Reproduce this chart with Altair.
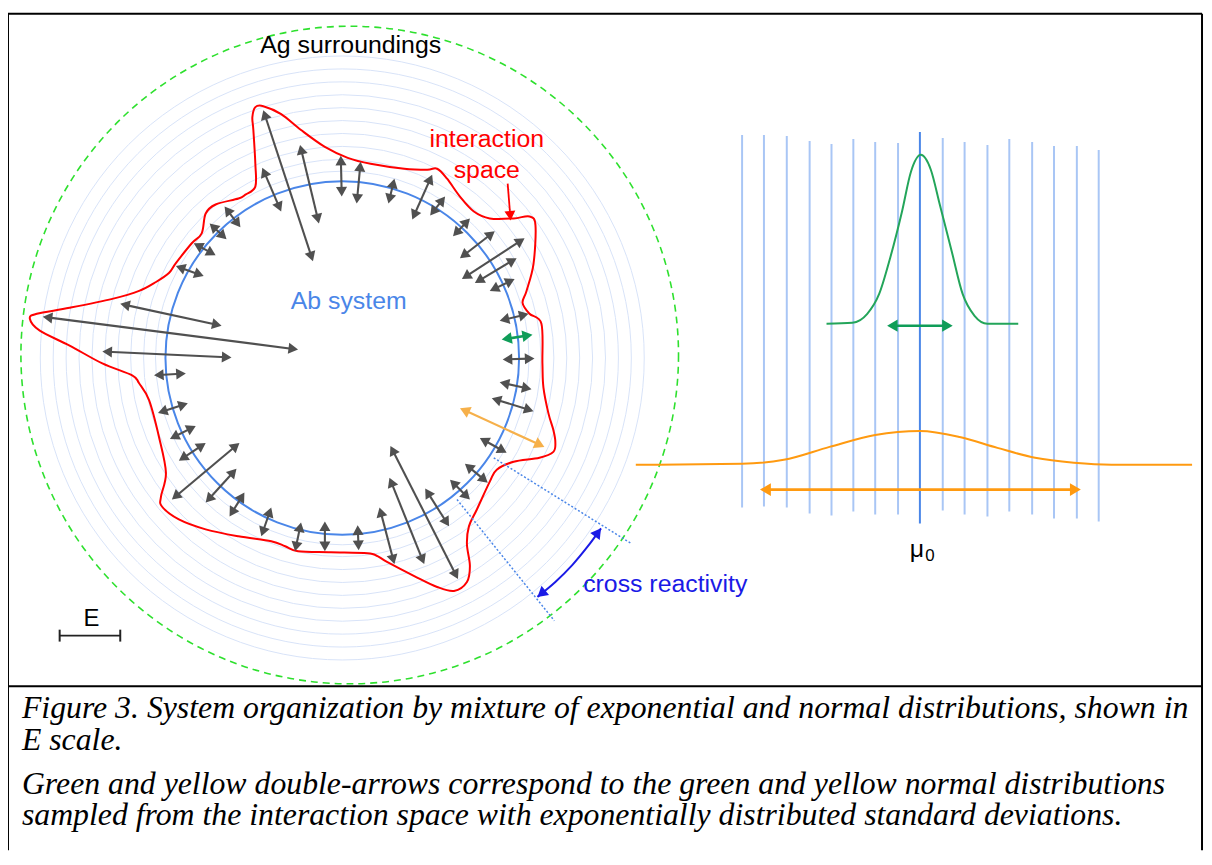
import math
import altair as alt
import pandas as pd

# ------------------------------------------------------------------
# Diagram values (picture coordinates, y grows downward)
# ------------------------------------------------------------------
AB_CX, AB_CY, AB_R = 344.5, 357.5, 178          # Ab system circle
AG_CX, AG_CY, AG_R = 352.0, 354.5, 331          # Ag surroundings (dashed)
SHELL_R = [188, 200, 213, 226, 239, 252, 265, 278, 291, 304]  # E-scale shells

# interaction space (red closed curve)
RED_X = [257, 265, 283, 303, 327, 350, 373, 407, 430, 440, 450, 463, 477, 493, 517, 533, 539,
         537, 530, 526, 533, 545, 546, 547, 552, 557, 559, 557, 543, 517, 500, 493, 480, 472,
         470, 473, 470, 457, 440, 417, 390, 380, 370, 333, 300, 287, 273, 240, 207, 180, 163,
         162, 167, 160, 150, 140, 133, 103, 70, 40, 30, 37, 70, 113, 140, 157, 170, 177, 193,
         203, 207, 217, 240, 247, 257, 257, 255, 254]
RED_Y = [105, 104, 112, 128, 145, 156, 162, 167, 168, 167, 177, 195, 210, 217, 217, 215, 224,
         263, 290, 302, 313, 323, 363, 387, 413, 430, 442, 452, 458, 462, 470, 482, 510, 527,
         545, 567, 583, 592, 588, 577, 563, 557, 554, 553, 552, 547, 542, 537, 530, 520, 507,
         497, 473, 437, 400, 383, 375, 363, 345, 330, 318, 313, 307, 298, 290, 281, 272, 262,
         242, 232, 212, 203, 197, 193, 185, 162, 128, 115]

# gray double arrows (start -> end)
GRAY_X1 = [265, 302, 264, 343, 363, 397, 435, 448, 473, 498, 528, 520, 518, 532, 538, 535, 537,
           510, 491, 473, 452, 461, 427, 397, 361, 327, 297, 263, 231, 207, 173, 180, 171, 159,
           155, 43, 121, 103, 177, 195, 211, 226]
GRAY_Y1 = [108, 143, 166, 154, 160, 177, 173, 195, 217, 230, 237, 257, 278, 313, 358, 389, 411,
           453, 483, 500, 527, 580, 565, 565, 551, 552, 552, 537, 517, 503, 500, 461, 439, 413,
           375, 316, 303, 351, 265, 242, 222, 205]
GRAY_X2 = [315, 321, 283, 344, 359, 391, 415, 433, 456, 463, 465, 478, 493, 503, 506, 503, 495,
           483, 468, 453, 428, 393, 392, 382, 360, 327, 303, 273, 246, 238, 241, 207, 197, 189,
           187, 300, 223, 233, 205, 217, 228, 242]
GRAY_Y2 = [260, 222, 210, 195, 202, 202, 218, 214, 235, 257, 278, 282, 290, 320, 359, 382, 398,
           438, 464, 480, 489, 446, 478, 508, 526, 522, 523, 508, 493, 469, 443, 443, 426, 403,
           373, 349, 325, 357, 275, 254, 238, 226]

# green and yellow sampled double arrows inside the Ab circle
GREEN_ARROW = (536, 334, 505, 339)
ORANGE_ARROW = (463, 408, 548, 447)

# right panel: E-scale grid lines
VLINE_X = [747, 769, 792, 815, 837, 859, 881, 904, 926, 949, 971, 994, 1016, 1039, 1061, 1084, 1106]
VLINE_TOP = [133, 133, 134, 139, 142, 137, 140, 141, 130, 136, 140, 143, 137, 140, 144, 144, 148]
VLINE_BOT = [508, 507, 508, 514, 516, 512, 515, 515, 524, 511, 515, 517, 512, 515, 519, 519, 522]

# green (narrow) normal distribution
GREEN_X = [832, 858, 873, 885, 896, 908, 917, 927, 937, 946, 958, 969, 981, 994, 1025]
GREEN_Y = [323, 322, 313, 293, 257, 210, 170, 153, 168, 203, 250, 293, 315, 323, 323]
# yellow (wide) normal distribution
ORANGE_X = [640, 747, 789, 835, 881, 926, 966, 1004, 1042, 1081, 1119, 1200]
ORANGE_Y = [465, 464, 460, 447, 435, 431, 437, 448, 458, 463, 465, 465]

RIGHT_GREEN_ARROW = (893, 325, 959, 325)
RIGHT_ORANGE_ARROW = (765, 490, 1088, 490)

# cross reactivity arc and guide lines
ARC_X = [541, 559, 576, 591, 605]
ARC_Y = [598, 583, 566, 548, 529]
GUIDE_X1 = [497, 460]
GUIDE_Y1 = [458, 500]
GUIDE_X2 = [635, 558]
GUIDE_Y2 = [544, 622]

CAPTION = [
    "Figure 3. System organization by mixture of exponential and normal distributions, shown in",
    "E scale.",
    "Green and yellow double-arrows correspond to the green and yellow normal distributions",
    "sampled from the interaction space with exponentially distributed standard deviations.",
]

# ------------------------------------------------------------------
W, H = 1204, 845
xs = alt.Scale(domain=[8, 8 + W], nice=False, zero=False)
ys = alt.Scale(domain=[8, 8 + H], nice=False, zero=False, reverse=True)


def X(f="x"):
    return alt.X(f"{f}:Q", scale=xs, axis=None)


def Y(f="y"):
    return alt.Y(f"{f}:Q", scale=ys, axis=None)


def arrow_parts(x1, y1, x2, y2, color, width, head, both=True):
    L = math.hypot(x2 - x1, y2 - y1)
    ux, uy = (x2 - x1) / L, (y2 - y1) / L
    h = math.sqrt(head) / 2 * math.sqrt(3) / 2
    seg = dict(x=x1 + (ux * h if both else 0), y=y1 + (uy * h if both else 0),
               x2=x2 - ux * h, y2=y2 - uy * h, c=color, w=width)
    heads = [dict(x=x2 - ux * h, y=y2 - uy * h,
                  a=math.degrees(math.atan2(ux, -uy)) % 360, c=color, s=head)]
    if both:
        heads.append(dict(x=x1 + ux * h, y=y1 + uy * h,
                          a=math.degrees(math.atan2(-ux, uy)) % 360, c=color, s=head))
    return seg, heads


segs, heads = [], []
for a, b, c, d in zip(GRAY_X1, GRAY_Y1, GRAY_X2, GRAY_Y2):
    s, hh = arrow_parts(a, b, c, d, "#505050", 2.1, 125)
    segs.append(s); heads += hh
for arr, col, w, hs in [(GREEN_ARROW, "#0f9d58", 2.6, 140), (ORANGE_ARROW, "#f6b04a", 2.2, 140),
                        (RIGHT_GREEN_ARROW, "#0f9d58", 2.4, 150),
                        (RIGHT_ORANGE_ARROW, "#ff9a10", 2.6, 160)]:
    s, hh = arrow_parts(*arr, col, w, hs)
    segs.append(s); heads += hh
# red pointer from the "space" label
s, hh = arrow_parts(511, 182, 514, 219, "#ff0000", 1.8, 120, both=False)
segs.append(s); heads += hh
# heads of the cross reactivity arc
for (px, py, qx, qy) in [(ARC_X[1], ARC_Y[1], ARC_X[0], ARC_Y[0]), (ARC_X[3], ARC_Y[3], ARC_X[4], ARC_Y[4])]:
    L = math.hypot(qx - px, qy - py)
    ux, uy = (qx - px) / L, (qy - py) / L
    h = math.sqrt(140) / 2 * math.sqrt(3) / 2
    heads.append(dict(x=qx - ux * h, y=qy - uy * h, a=math.degrees(math.atan2(ux, -uy)) % 360,
                      c="#1a1ae6", s=140))

seg_df = pd.DataFrame(segs)
head_df = pd.DataFrame(heads)

shell_df = pd.DataFrame(dict(x=[AB_CX] * len(SHELL_R), y=[AB_CY] * len(SHELL_R),
                             s=[(2 * r) ** 2 for r in SHELL_R]))
ab_df = pd.DataFrame(dict(x=[AB_CX], y=[AB_CY], s=[(2 * AB_R) ** 2]))
ag_df = pd.DataFrame(dict(x=[AG_CX], y=[AG_CY], s=[(2 * AG_R) ** 2]))

red_df = pd.DataFrame(dict(x=RED_X, y=RED_Y, i=range(len(RED_X))))
green_df = pd.DataFrame(dict(x=GREEN_X, y=GREEN_Y))
orange_df = pd.DataFrame(dict(x=ORANGE_X, y=ORANGE_Y))
arc_df = pd.DataFrame(dict(x=ARC_X, y=ARC_Y, i=range(len(ARC_X))))
vl_df = pd.DataFrame(dict(x=VLINE_X, y=VLINE_TOP, y2=VLINE_BOT,
                          c=["#4a86e8" if i == 8 else "#a9c6f5" for i in range(len(VLINE_X))]))
guide_df = pd.DataFrame(dict(x=GUIDE_X1, y=GUIDE_Y1, x2=GUIDE_X2, y2=GUIDE_Y2))

shells = alt.Chart(shell_df).mark_point(shape="circle", filled=False, opacity=1,
                                        color="#d8e3f8", strokeWidth=1).encode(
    x=X(), y=Y(), size=alt.Size("s:Q", scale=None))
ag = alt.Chart(ag_df).mark_point(shape="circle", filled=False, opacity=1, color="#2ee02e",
                                 strokeWidth=1.6, strokeDash=[7, 5]).encode(
    x=X(), y=Y(), size=alt.Size("s:Q", scale=None))
ab = alt.Chart(ab_df).mark_point(shape="circle", filled=False, opacity=1, color="#4a86e8",
                                 strokeWidth=2).encode(
    x=X(), y=Y(), size=alt.Size("s:Q", scale=None))
red = alt.Chart(red_df).mark_line(interpolate="cardinal-closed", color="#ff0000", strokeWidth=2).encode(
    x=X(), y=Y(), order="i:Q")
vlines = alt.Chart(vl_df).mark_rule(strokeWidth=2).encode(
    x=X(), y=Y(), y2="y2:Q", color=alt.Color("c:N", scale=None))
green_curve = alt.Chart(green_df).mark_line(interpolate="monotone", color="#23a55a", strokeWidth=2).encode(
    x=X(), y=Y())
orange_curve = alt.Chart(orange_df).mark_line(interpolate="monotone", color="#ff9a10", strokeWidth=2).encode(
    x=X(), y=Y())
arc = alt.Chart(arc_df).mark_line(interpolate="cardinal", color="#1a1ae6", strokeWidth=2).encode(
    x=X(), y=Y(), order="i:Q")
guides = alt.Chart(guide_df).mark_rule(color="#4a86e8", strokeWidth=1.5, strokeDash=[2, 2]).encode(
    x=X(), y=Y(), x2="x2:Q", y2="y2:Q")
arrow_lines = alt.Chart(seg_df).mark_rule().encode(
    x=X(), y=Y(), x2="x2:Q", y2="y2:Q", color=alt.Color("c:N", scale=None),
    strokeWidth=alt.StrokeWidth("w:Q", scale=None))
arrow_heads = alt.Chart(head_df).mark_point(shape="triangle-up", filled=True, opacity=1).encode(
    x=X(), y=Y(), angle=alt.Angle("a:Q", scale=None), color=alt.Color("c:N", scale=None),
    size=alt.Size("s:Q", scale=None))

labels_df = pd.DataFrame(dict(
    x=[353, 490, 490, 351, 92, 923],
    y=[42, 137, 168, 300, 620, 550],
    t=["Ag surroundings", "interaction", "space", "Ab system", "E", "μ"],
    c=["#000000", "#ff0000", "#ff0000", "#4a86e8", "#000000", "#000000"],
    fs=[25, 25, 25, 25, 24, 25]))
labels = alt.Chart(labels_df).mark_text(font="Liberation Sans", align="center", baseline="middle").encode(
    x=X(), y=Y(), text="t:N", color=alt.Color("c:N", scale=None), size=alt.Size("fs:Q", scale=None))
cross = alt.Chart(pd.DataFrame(dict(x=[587], y=[585], t=["cross reactivity"]))).mark_text(
    font="Liberation Sans", fontSize=25, align="left", baseline="middle", color="#1a1ae6").encode(
    x=X(), y=Y(), text="t:N")
sub = alt.Chart(pd.DataFrame(dict(x=[936], y=[557], t=["0"]))).mark_text(
    font="Liberation Sans", fontSize=17, align="center", baseline="middle", color="#000").encode(
    x=X(), y=Y(), text="t:N")

scale_bar = alt.Chart(pd.DataFrame(dict(x=[60, 60, 121], y=[637, 631, 631], x2=[121, 60, 121],
                                        y2=[637, 643, 643]))).mark_rule(color="#222", strokeWidth=2).encode(
    x=X(), y=Y(), x2="x2:Q", y2="y2:Q")

cap_df = pd.DataFrame(dict(x=[22, 22, 22, 22], y=[710, 742, 786, 818], t=CAPTION))
caption = alt.Chart(cap_df).mark_text(font="Liberation Serif", fontStyle="italic", fontSize=32,
                                      align="left", baseline="middle", color="#000").encode(
    x=X(), y=Y(), text="t:N")

border = alt.Chart(pd.DataFrame(dict(x=[8, 8, 1210, 8], y=[11, 11, 11, 688],
                                     x2=[1210, 8, 1210, 1210], y2=[11, 853, 853, 688]))).mark_rule(
    color="#000", strokeWidth=2).encode(x=X(), y=Y(), x2="x2:Q", y2="y2:Q")

chart = alt.layer(shells, ag, vlines, orange_curve, green_curve, ab, red, guides, arc,
                  arrow_lines, arrow_heads, labels, cross, sub, scale_bar, caption, border).properties(
    width=W, height=H, padding=0, autosize=alt.AutoSizeParams(type="none")
).configure_view(stroke=None)

chart.save("out.html", embed_options={"renderer": "svg", "actions": False})
